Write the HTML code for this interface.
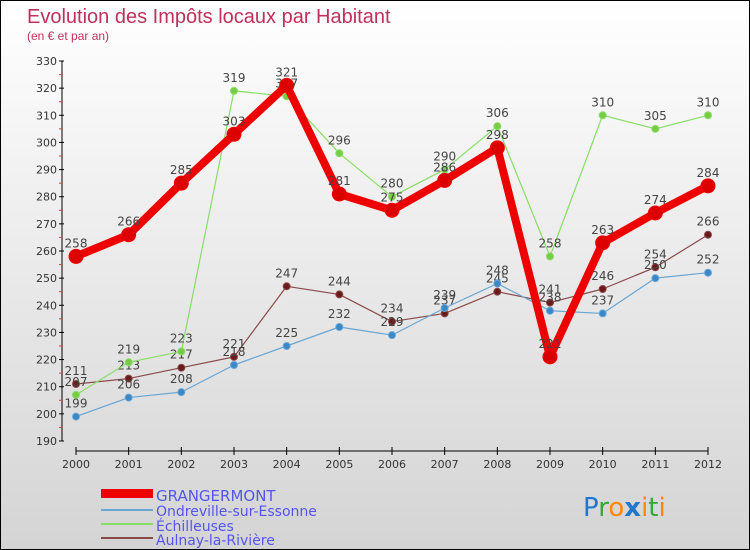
<!DOCTYPE html>
<html><head><meta charset="utf-8"><style>
body{margin:0}
#c{width:750px;height:550px;position:relative;box-sizing:border-box;border:1px solid #000;background:linear-gradient(#fff,#d4d4d4);font-family:"DejaVu Sans","Liberation Sans",sans-serif;overflow:hidden}
</style></head><body>
<div id="c">
<svg id="s" width="750" height="550" style="position:absolute;left:0;top:0" font-family="DejaVu Sans, Liberation Sans, sans-serif">
<text x="26" y="22" font-size="20" fill="#c0305a" font-family="Liberation Sans, sans-serif">Evolution des Impôts locaux par Habitant</text>
<text x="26" y="39" font-size="12" fill="#c0305a" font-family="Liberation Sans, sans-serif">(en € et par an)</text>
<g id="axes"></g><g id="series"></g>
<g>
<rect x="100" y="488" width="52" height="9" fill="#e00"/>
<text x="155" y="500" font-size="15" fill="#5555ee">GRANGERMONT</text>
<line x1="100" y1="509" x2="152" y2="509" stroke="#6aa6d4" stroke-width="2"/>
<text x="155" y="515" font-size="14" fill="#5555ee">Ondreville-sur-Essonne</text>
<line x1="100" y1="523" x2="152" y2="523" stroke="#88dd66" stroke-width="2"/>
<text x="155" y="530" font-size="14" fill="#5555ee">Échilleuses</text>
<line x1="100" y1="537" x2="152" y2="537" stroke="#8a4a4a" stroke-width="2"/>
<text x="155" y="544" font-size="14" fill="#5555ee">Aulnay-la-Rivière</text>
</g>
<text x="582" y="515" font-size="26"><tspan fill="#2277cc">P</tspan><tspan fill="#33aa33">r</tspan><tspan fill="#ff8800">o</tspan><tspan fill="#2277cc" font-weight="bold">x</tspan><tspan fill="#ff8800">i</tspan><tspan fill="#33aa33">t</tspan><tspan fill="#ff8800">i</tspan></text>
</svg>
</div>
<script>
const years=[2000,2001,2002,2003,2004,2005,2006,2007,2008,2009,2010,2011,2012];
const grangermont=[258,266,285,303,321,281,275,286,298,221,263,274,284];
const ondreville=[199,206,208,218,225,232,229,239,248,238,237,250,252];
const echilleuses=[207,219,223,319,317,296,280,290,306,258,310,305,310];
const aulnay=[211,213,217,221,247,244,234,237,245,241,246,254,266];
const yTicks=[190,200,210,220,230,240,250,260,270,280,290,300,310,320,330];
const NS="http://www.w3.org/2000/svg";
const X=i=>75+i*(707-75)/(years.length-1);
const Y=v=>440-(v-190)*(380/140);
function mk(t,a,p){const e=document.createElementNS(NS,t);for(const k in a)e.setAttribute(k,a[k]);p.appendChild(e);return e;}
const ax=document.getElementById('axes');
const yl=mk('line',{x1:61,y1:Y(330),x2:61,y2:Y(190),stroke:'#000','stroke-width':1},ax);


yTicks.forEach(v=>{
 mk('line',{x1:58,y1:Y(v),x2:63,y2:Y(v),stroke:'#000'},ax);
 if(v<330) mk('line',{x1:58,y1:Y(v+5),x2:61,y2:Y(v+5),stroke:'#e33'},ax);
 const t=mk('text',{x:56,y:Y(v)+4,'font-size':11,fill:'#333','text-anchor':'end'},ax);t.textContent=v;
 
 
});
const xl=mk('line',{x1:X(0),y1:450,x2:X(12),y2:450,stroke:'#000'},ax);


years.forEach((y,i)=>{
 mk('line',{x1:X(i),y1:446,x2:X(i),y2:454,stroke:'#000'},ax);
 const t=mk('text',{x:X(i),y:467,'font-size':11,fill:'#333','text-anchor':'middle'},ax);t.textContent=y;
 
 
});
const sg=document.getElementById('series');
function series(data,name,color,dot,w,r){
 const g=mk('g',{},sg);
 
 
 const pl=mk('polyline',{points:data.map((v,i)=>X(i)+','+Y(v)).join(' '),fill:'none',stroke:color,'stroke-width':w,'stroke-linejoin':'round'},g);
 
 
 data.forEach((v,i)=>{
  const c=mk('circle',{cx:X(i),cy:Y(v),r:r,fill:dot,stroke:color,'stroke-width':1},g);
  
  
  const t=mk('text',{x:X(i),y:Y(v)-9,'font-size':12,fill:'#444','text-anchor':'middle'},g);t.textContent=v;
  
  
 });
}
series(aulnay,'aulnay','#8a4a4a','#6a1a1a',1.2,3.5);
series(echilleuses,'echilleuses','#88dd66','#77cc44',1.2,3.5);
series(ondreville,'ondreville','#6aa6d4','#3a88c8',1.2,3.5);
series(grangermont,'grangermont','#ee0000','#dd0000',8,7);
</script>
</body></html>
